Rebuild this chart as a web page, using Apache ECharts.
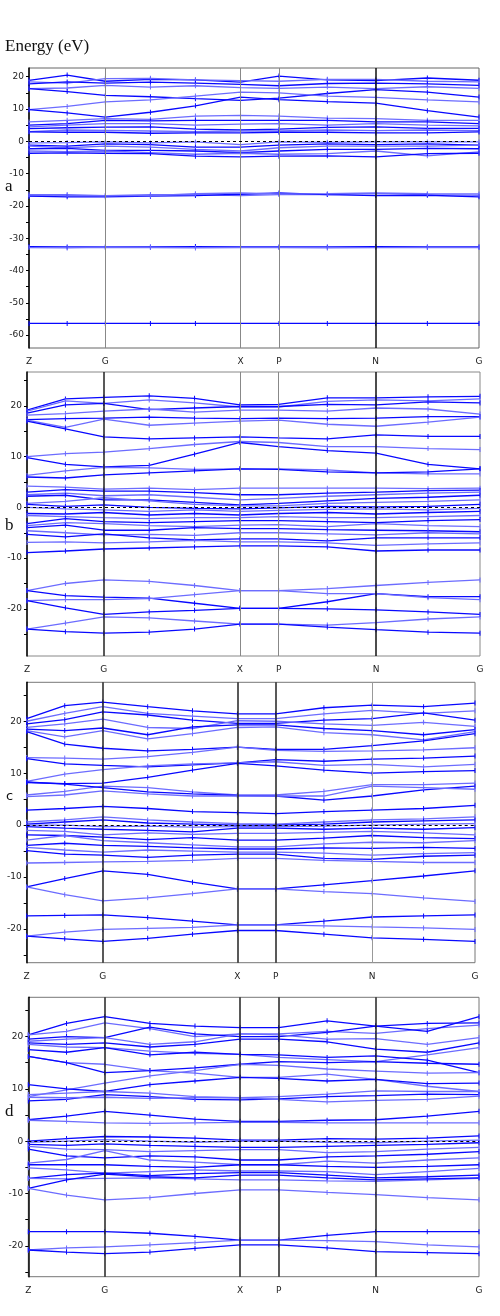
<!DOCTYPE html>
<html><head><meta charset="utf-8">
<script src="https://cdn.jsdelivr.net/npm/echarts@6/dist/echarts.min.js"></script>
<style>html,body{margin:0;padding:0;background:#fff}#c{width:500px;height:1316px}</style>
</head><body><div id="c"></div>
<script>
// k-path (high-symmetry points) and sampled k positions
const kLabels = ['Z','G','X','P','N','G'];
const kPath = [0, 76.5, 212, 250.5, 347.5, 451];
const kSample = [0, 38.25, 76.5, 121.7, 166.8, 212, 250.5, 299, 347.5, 399.25, 451];

// y tick labels / ticks
const yLabelsA = [20,10,0,-10,-20,-30,-40,-50,-60];
const yTicksA = [20,15,10,5,0,-5,-10,-15,-20,-25,-30,-35,-40,-45,-50,-55,-60];
const yLabelsBCD = [20,10,0,-10,-20];
const yTicksBCD = [25,20,15,10,5,0,-5,-10,-15,-20,-25];

// Panel a bands (E at Z, ZG, G, GX1, GX2, X, P, PN, N, NG, G)
const bandsA = [
[18.9,20.5,18.6,19.2,19.0,18.3,20.2,19.0,18.8,19.6,18.9],
[18.4,18.0,19.4,19.5,19.0,18.8,18.6,19.2,19.2,18.6,18.4],
[17.8,18.4,18.0,18.3,18.0,17.6,17.2,17.9,18.0,17.8,17.3],
[16.3,16.5,17.3,16.8,17.2,16.6,16.4,16.8,16.3,16.9,16.4],
[16.3,15.4,14.2,13.8,13.2,12.7,13.4,14.8,16.0,15.2,13.7],
[9.8,10.8,12.2,12.8,14.0,15.2,15.0,14.0,13.6,12.8,12.2],
[9.8,8.8,7.5,9.0,11.0,13.7,12.9,12.3,11.8,9.5,7.5],
[6.0,6.5,7.0,6.8,7.8,8.0,7.8,7.2,7.0,6.5,6.5],
[5.0,5.5,6.5,6.3,6.5,6.5,6.5,6.5,6.0,6.0,5.5],
[4.5,5.0,5.5,5.5,5.0,5.3,5.5,5.0,5.5,5.0,4.8],
[3.9,4.2,4.4,4.5,3.8,3.5,3.8,4.3,4.5,4.0,4.0],
[3.0,3.5,3.4,3.2,3.0,3.2,3.2,3.5,3.3,3.5,3.3],
[2.9,2.8,2.8,2.5,2.6,2.6,2.8,2.8,2.6,2.6,2.9],
[-0.5,-0.4,-0.2,-0.5,-0.2,-1.0,-0.2,-0.3,-0.2,-0.2,-0.2],
[-1.2,-1.5,-0.8,-1.0,-1.8,-1.8,-1.2,-0.8,-1.0,-0.8,-1.2],
[-1.5,-2.0,-1.5,-1.8,-2.5,-3.0,-2.0,-1.5,-1.5,-1.5,-1.2],
[-2.3,-2.2,-2.8,-2.8,-3.0,-3.5,-3.0,-2.5,-2.5,-2.2,-2.3],
[-3.0,-3.2,-3.0,-3.5,-4.0,-3.7,-4.0,-3.8,-3.0,-4.5,-3.3],
[-3.7,-3.6,-3.7,-3.8,-4.6,-4.8,-4.6,-4.5,-4.8,-3.8,-3.7],
[-16.9,-16.8,-16.8,-16.5,-16.5,-16.8,-16.5,-16.5,-16.2,-16.5,-16.7],
[-17.0,-17.2,-17.2,-17.0,-16.8,-16.4,-16.0,-16.5,-16.8,-16.7,-17.2],
[-16.5,-16.5,-16.8,-16.8,-16.2,-16.0,-16.3,-16.2,-16.0,-16.2,-16.3],
[-32.6,-32.7,-32.7,-32.7,-32.6,-32.7,-32.7,-32.7,-32.6,-32.7,-32.7],
[-32.9,-33.0,-32.8,-32.9,-33.0,-32.9,-32.9,-33.0,-32.9,-32.9,-32.9],
[-56.4,-56.4,-56.4,-56.4,-56.4,-56.4,-56.4,-56.4,-56.4,-56.4,-56.4]
];

// Panel b bands
const bandsB = [
[19.2,21.4,21.7,22.0,21.5,20.2,20.3,21.6,21.6,21.8,21.9],
[19.0,21.0,20.5,21.2,20.6,19.8,19.8,20.9,21.2,21.0,21.4],
[18.6,20.2,20.5,19.3,19.6,19.9,19.9,20.3,20.2,20.8,20.6],
[18.2,18.5,19.0,19.4,18.8,19.2,19.2,19.0,19.6,19.4,18.4],
[17.3,17.5,17.6,17.8,17.6,17.5,17.6,17.5,17.6,17.9,17.9],
[17.2,15.8,17.4,16.2,16.6,17.0,17.2,16.4,16.0,16.8,17.8],
[17.0,15.5,13.9,13.5,13.7,13.9,13.7,13.5,14.3,14.0,14.0],
[10.0,10.6,10.9,11.6,12.4,13.0,12.8,12.0,12.0,11.6,11.4],
[9.8,8.5,8.0,8.3,10.5,12.8,12.0,11.2,10.7,8.5,7.6],
[6.3,7.2,7.9,7.8,7.5,7.6,7.6,7.4,6.8,6.6,6.6],
[6.0,5.8,6.4,6.8,7.2,7.6,7.5,7.0,6.8,7.0,7.6],
[4.2,4.0,3.6,3.8,3.5,3.8,3.8,3.8,3.8,3.7,3.8],
[3.0,3.5,3.2,3.2,2.9,2.5,2.5,2.8,3.0,3.3,3.4],
[2.5,2.8,2.3,2.5,2.0,1.5,1.8,2.2,2.5,2.8,3.0],
[2.2,2.4,1.5,1.5,1.0,0.5,0.8,1.3,1.8,2.0,2.4],
[0.8,1.2,1.9,1.3,0.6,0.3,0.3,0.8,1.0,1.2,1.5],
[0.6,0.2,0.5,0.0,-0.2,-0.3,-0.1,0.2,0.1,0.2,0.6],
[0.0,-0.3,-0.5,-0.8,-0.5,-0.8,-0.6,-0.4,-0.3,-0.5,-0.2],
[-1.2,-1.3,-1.0,-1.5,-1.2,-1.5,-1.2,-1.0,-1.3,-1.0,-0.8],
[-1.6,-1.8,-2.0,-2.2,-2.0,-2.0,-1.8,-2.0,-2.0,-1.8,-1.6],
[-3.2,-2.2,-2.8,-3.0,-2.8,-2.6,-2.6,-2.8,-3.0,-2.6,-2.4],
[-3.6,-3.0,-3.2,-3.6,-3.8,-3.5,-3.4,-3.8,-3.2,-3.6,-3.8],
[-4.0,-3.5,-4.5,-4.5,-4.0,-4.2,-4.2,-4.4,-4.5,-4.6,-4.8],
[-4.6,-5.0,-5.4,-5.3,-5.5,-5.0,-5.0,-5.2,-5.4,-5.0,-5.2],
[-5.3,-5.8,-5.2,-6.0,-6.4,-6.2,-6.2,-6.6,-6.0,-6.0,-6.0],
[-6.9,-6.8,-7.0,-6.8,-6.5,-6.8,-6.8,-7.0,-7.5,-7.2,-7.0],
[-8.9,-8.6,-8.2,-8.0,-7.8,-7.6,-7.6,-7.8,-8.6,-8.4,-8.4],
[-16.4,-15.0,-14.3,-14.6,-15.4,-16.4,-16.4,-16.0,-15.4,-14.8,-14.3],
[-16.4,-17.4,-17.7,-17.9,-18.9,-19.9,-19.9,-18.6,-17.0,-17.6,-17.6],
[-18.4,-18.2,-18.2,-18.0,-17.2,-16.4,-16.4,-17.0,-17.0,-17.8,-18.2],
[-18.4,-19.8,-21.1,-20.6,-20.3,-19.9,-19.9,-20.0,-20.2,-20.6,-21.1],
[-24.0,-22.8,-21.6,-21.8,-22.4,-23.0,-23.0,-23.2,-22.7,-22.0,-21.6],
[-24.0,-24.5,-24.8,-24.6,-24.0,-23.0,-23.0,-23.6,-24.1,-24.6,-24.8]
];

// Panel c bands
const bandsC = [
[20.5,23.0,23.7,22.8,22.0,21.4,21.4,22.6,23.1,22.8,23.5],
[20.0,21.5,22.8,21.5,21.0,20.5,20.5,21.4,22.1,21.5,22.0],
[19.5,20.3,21.8,21.2,20.2,19.6,19.6,20.2,20.5,21.6,20.2],
[18.8,19.5,20.4,18.8,18.6,20.1,20.0,19.5,19.2,19.8,19.0],
[18.5,18.2,18.7,17.4,18.9,19.3,19.3,18.6,18.2,17.4,18.4],
[18.2,17.0,18.2,16.6,17.6,18.8,18.9,17.8,17.4,16.4,18.0],
[18.0,15.6,14.8,14.3,14.6,15.0,14.6,14.6,15.3,16.2,17.6],
[13.0,12.9,12.7,13.2,14.0,15.0,14.4,14.2,14.3,14.5,14.9],
[12.8,11.8,11.5,11.2,11.6,12.0,12.6,12.3,12.7,12.9,13.3],
[8.4,9.8,10.7,11.4,11.8,12.0,12.2,11.5,11.7,11.2,11.7],
[8.2,8.0,8.1,9.2,10.6,11.9,11.4,10.6,10.0,10.3,10.5],
[5.8,6.5,7.5,7.2,6.4,5.8,5.8,6.5,7.8,7.8,8.1],
[8.3,7.9,7.2,6.4,6.0,5.7,5.6,4.8,5.6,6.8,7.5],
[5.5,5.8,6.6,6.0,5.6,5.6,5.6,5.6,7.5,7.2,6.9],
[2.9,3.2,3.6,3.2,2.6,2.4,2.2,2.6,2.9,3.2,3.8],
[0.6,1.0,1.6,1.0,0.6,0.3,0.2,0.6,1.0,1.2,1.6],
[0.2,0.6,1.0,0.4,0.2,0.0,0.0,0.2,0.6,0.8,1.0],
[0.0,0.0,-0.3,-0.2,-0.4,-0.3,-0.3,-0.2,0.0,0.2,0.3],
[-0.3,-0.6,-0.8,-1.0,-1.3,-0.6,-0.6,-0.8,-0.6,-0.8,-0.5],
[-1.0,-1.2,-1.9,-1.5,-1.8,-1.6,-1.6,-1.4,-1.2,-1.5,-1.9],
[-1.9,-2.0,-2.3,-2.8,-2.4,-2.9,-2.9,-2.5,-2.0,-2.4,-2.6],
[-2.9,-2.0,-3.0,-3.4,-3.8,-4.2,-4.2,-3.6,-3.3,-3.4,-3.0],
[-3.9,-3.5,-3.9,-4.1,-4.4,-4.6,-4.6,-4.4,-4.5,-4.3,-4.5],
[-4.3,-4.8,-5.2,-4.8,-5.0,-5.2,-5.2,-5.4,-5.8,-5.5,-5.3],
[-4.9,-5.6,-5.8,-6.2,-5.8,-5.6,-5.6,-6.4,-6.6,-6.0,-5.8],
[-7.3,-7.2,-7.1,-7.0,-6.8,-6.4,-6.4,-6.8,-7.0,-7.2,-7.2],
[-11.9,-10.3,-8.8,-9.5,-11.0,-12.3,-12.3,-11.5,-10.7,-9.8,-8.8],
[-11.9,-13.4,-14.6,-14.0,-13.2,-12.3,-12.3,-12.8,-13.2,-14.0,-14.7],
[-17.5,-17.4,-17.3,-17.8,-18.5,-19.2,-19.2,-18.5,-17.7,-17.5,-17.3],
[-21.4,-20.6,-20.1,-19.9,-19.7,-19.2,-19.2,-19.4,-19.6,-19.8,-20.1],
[-21.4,-21.9,-22.4,-21.8,-21.0,-20.3,-20.3,-21.0,-21.7,-22.0,-22.4]
];

// Panel d bands
const bandsD = [
[20.3,22.5,23.8,22.5,22.0,21.7,21.7,23.0,22.0,22.5,22.6],
[20.3,21.0,22.6,21.5,20.0,20.5,20.5,21.0,20.6,21.5,22.2],
[19.5,20.0,19.8,21.8,20.5,20.0,20.0,20.8,22.0,21.0,23.8],
[19.1,19.5,19.8,18.5,19.0,20.5,20.3,19.5,19.6,18.5,19.8],
[18.8,18.5,18.8,18.0,18.5,19.5,19.5,19.0,17.6,17.0,18.8],
[18.5,18.0,17.9,17.2,16.8,16.6,16.0,15.6,15.2,16.5,17.9],
[17.5,17.0,17.9,16.5,17.0,16.6,16.5,16.0,16.3,15.5,13.1],
[16.2,15.0,14.7,13.5,13.0,12.2,12.2,12.8,11.8,10.5,9.5],
[16.2,15.0,13.1,13.5,14.0,14.7,15.2,15.0,15.2,14.9,14.7],
[8.5,9.8,11.1,12.5,13.5,14.7,14.5,13.8,13.4,13.0,13.1],
[10.8,10.0,9.5,10.8,11.5,12.2,12.0,11.5,11.8,11.0,11.1],
[8.9,9.2,9.5,9.2,8.5,8.3,8.5,9.0,9.6,9.5,9.5],
[7.7,8.0,8.9,8.5,8.0,7.9,8.1,8.5,8.7,9.0,8.9],
[8.4,8.3,8.4,8.2,8.3,8.3,8.0,7.5,7.8,8.0,8.6],
[4.1,4.8,5.7,5.0,4.2,3.8,3.8,4.0,4.1,4.8,5.7],
[4.0,3.8,3.5,3.4,3.5,3.6,3.6,3.5,3.5,3.5,3.5],
[0.0,0.5,0.9,0.8,0.6,0.2,0.2,0.5,0.4,0.6,1.0],
[-0.2,0.0,0.3,0.0,-0.2,0.0,0.0,-0.2,-0.3,0.0,0.2],
[-0.6,-0.8,-0.5,-0.8,-1.0,-1.2,-1.2,-1.0,-0.8,-0.6,-0.3],
[-1.0,-1.5,-1.6,-2.0,-1.8,-1.6,-1.6,-2.2,-2.0,-1.5,-1.2],
[-1.5,-2.8,-3.2,-2.8,-3.0,-3.6,-3.6,-3.0,-2.8,-2.5,-2.0],
[-4.2,-3.5,-1.8,-3.6,-4.0,-4.5,-4.5,-3.8,-4.2,-3.6,-3.2],
[-4.5,-4.5,-4.5,-4.8,-5.0,-4.5,-4.5,-4.8,-5.0,-4.8,-4.5],
[-5.1,-5.5,-6.1,-5.8,-5.5,-5.7,-5.7,-5.8,-6.4,-5.8,-5.2],
[-7.1,-6.4,-6.1,-6.6,-6.2,-6.0,-6.0,-6.5,-7.0,-6.8,-6.5],
[-7.1,-7.2,-7.1,-7.0,-7.2,-7.4,-7.4,-7.6,-7.7,-7.4,-7.1],
[-9.0,-7.4,-6.3,-6.8,-7.0,-6.5,-6.5,-7.0,-7.4,-7.2,-7.0],
[-9.0,-10.3,-11.2,-10.8,-10.0,-9.3,-9.3,-9.8,-10.2,-10.8,-11.2],
[-17.3,-17.3,-17.3,-17.6,-18.2,-18.9,-18.9,-18.0,-17.3,-17.3,-17.3],
[-20.8,-20.4,-20.2,-19.8,-19.4,-18.9,-18.9,-19.0,-19.2,-19.8,-20.2],
[-20.8,-21.2,-21.5,-21.2,-20.5,-19.8,-19.8,-20.4,-21.1,-21.3,-21.5]
];

const panels = [
  {bands: bandsA, left:29, top:68, width:450, height:280, min:-64, max:22.7, labels:yLabelsA, ticks:yTicksA,
   vcol:['#888','#888','#888','#111'], vw:[1,1,1,1.5], border:'#666'},
  {bands: bandsB, left:27, top:372, width:453, height:284, min:-29.3, max:26.7, labels:yLabelsBCD, ticks:yTicksBCD,
   vcol:['#222','#888','#888','#111'], vw:[1.5,1,1,1.5], border:'#888'},
  {bands: bandsC, left:26.7, top:682.3, width:448.3, height:280.4, min:-26.5, max:27.5, labels:yLabelsBCD, ticks:yTicksBCD,
   vcol:['#222','#222','#222','#999'], vw:[1.5,1.5,1.5,1], border:'#777'},
  {bands: bandsD, left:28.3, top:997.3, width:450.7, height:279.4, min:-25.9, max:27.5, labels:yLabelsBCD, ticks:yTicksBCD,
   vcol:['#222','#222','#222','#222'], vw:[1.5,1.5,1.5,1.5], border:'#777'}
];

const grid = [], xAxis = [], yAxis = [], series = [];
const dark = '#0808ff', light = '#6c6cff';
panels.forEach((p, pi) => {
  grid.push({left:p.left, top:p.top, width:p.width, height:p.height, show:true,
    borderColor:p.border, borderWidth:1, backgroundColor:'transparent'});
  xAxis.push({gridIndex:pi, type:'value', min:0, max:kPath[kPath.length-1],
    axisLine:{show:false}, axisTick:{show:false}, splitLine:{show:false},
    axisLabel:{customValues:kPath, showMinLabel:true, showMaxLabel:true,
      formatter:(v)=>{const i=kPath.indexOf(v);return i>=0?kLabels[i]:'';},
      fontSize:9, color:'#222', margin:9, fontFamily:'DejaVu Sans'}});
  yAxis.push({gridIndex:pi, type:'value', min:p.min, max:p.max,
    axisLine:{show:true, lineStyle:{color:'#000', width:1.5}},
    axisTick:{show:true, customValues:p.ticks, length:3, lineStyle:{color:'#000'}},
    axisLabel:{customValues:p.labels, fontSize:9, color:'#222', margin:5, fontFamily:'DejaVu Sans'},
    splitLine:{show:false}});
  const ml = [];
  for (let j=1;j<=4;j++) ml.push({xAxis:kPath[j], lineStyle:{color:p.vcol[j-1], width:p.vw[j-1], type:'solid'}});
  ml.push({yAxis:0, lineStyle:{color:'#000', width:1, type:[3,3]}});
  series.push({type:'line', xAxisIndex:pi, yAxisIndex:pi, data:[[0,0]], symbol:'none',
    lineStyle:{opacity:0}, silent:true, z:1, animation:false,
    markLine:{silent:true, symbol:['none','none'], label:{show:false}, animation:false, data:ml}});
  p.bands.forEach((b, bi) => {
    const col = bi % 2 ? light : dark;
    series.push({type:'line', xAxisIndex:pi, yAxisIndex:pi, silent:true, animation:false, z:3,
      data:kSample.map((k,i)=>[k,b[i]]),
      symbol:'rect', symbolSize:[1,5], showSymbol:true,
      itemStyle:{color:col}, lineStyle:{color:col, width:1.3}});
  });
});

const chart = echarts.init(document.getElementById('c'), null, {renderer:'canvas'});
chart.setOption({
  backgroundColor:'#fff', animation:false,
  grid, xAxis, yAxis, series,
  graphic:[
    {type:'text', left:5, top:38, style:{text:'Energy (eV)', font:'17px "Liberation Serif"', fill:'#111'}},
    {type:'text', left:5, top:178, style:{text:'a', font:'17px "Liberation Serif"', fill:'#111'}},
    {type:'text', left:5, top:517, style:{text:'b', font:'17px "Liberation Serif"', fill:'#111'}},
    {type:'text', left:6, top:790, style:{text:'c', font:'13px "DejaVu Sans"', fill:'#111'}},
    {type:'text', left:5, top:1103, style:{text:'d', font:'17px "Liberation Serif"', fill:'#111'}}
  ]
});
</script></body></html>
